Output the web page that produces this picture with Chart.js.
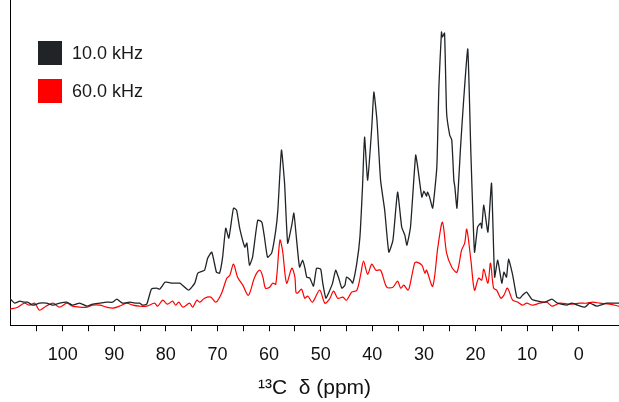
<!DOCTYPE html>
<html>
<head>
<meta charset="utf-8">
<script src="https://cdn.jsdelivr.net/npm/chart.js@4.4.1/dist/chart.umd.min.js"></script>
<style>
  html, body { margin: 0; padding: 0; background: #fff; }
</style>
</head>
<body>
<canvas id="espectro" width="619" height="402"></canvas>
<script>
const etiquetas = ['10.0 kHz', '60.0 kHz'];
const colores = ['#202427', '#ff0000'];

const ppm10k = [110.3, 109.9, 109.3, 108.3, 107.4, 106.8, 105.8, 104.5, 103.1, 101.9, 100.6, 99.2, 98.1, 96.7, 95.3, 94.2, 92.8, 91.5, 90.3, 89.5, 88.4, 87.0, 85.7, 85.1, 84.5, 83.7,
  82.8, 81.8, 81.2, 80.6, 80.2, 79.8, 78.7, 77.3, 75.6, 74.4, 73.8, 72.5, 71.9, 71.1, 70.2, 69.6, 69.0, 68.4, 67.8, 66.9, 66.3, 65.7, 64.7, 64.3, 63.8, 63.2, 62.2, 61.4, 60.9, 60.3, 59.5, 58.7, 58.3,
  57.6, 57.0, 56.4, 55.6, 55.2, 54.7, 54.1, 53.5, 53.1, 52.7, 52.1, 51.4, 50.8, 50.0, 49.6, 49.0, 48.4, 47.7, 47.1, 46.5, 45.9, 45.3, 45.0, 44.2, 43.8, 43.0, 42.4, 41.9, 41.5, 40.9, 40.1, 39.7, 39.1,
  38.4, 37.6, 36.8, 36.0, 35.1, 34.3, 33.7, 33.3, 32.6, 31.6, 31.2, 30.4, 30.0, 29.5, 29.3, 28.9, 28.3, 27.5, 27.1, 26.6, 26.4, 26.0, 25.6, 25.0, 24.6, 24.2, 24.0, 23.6, 22.9, 22.3, 21.5, 20.9,
  20.2, 19.6, 19.0, 18.8, 18.4, 17.6, 16.9, 16.3, 15.7, 14.9, 14.5, 14.0, 13.6, 12.8, 12.0, 11.4, 10.9, 10.1, 9.1, 7.9, 6.6, 5.2, 4.1, 2.3, 1.4, 0.2, -1.2, -2.1, -3.5, -5.4, -6.6, -7.8];
const int10k = [27, 25, 22, 24, 23, 23, 20, 22, 22, 20, 22, 23, 20, 22, 19, 21, 22, 23, 23, 26, 22, 23, 22, 22, 20, 21,
  36, 37, 36, 40, 43, 43, 42, 42, 35, 42, 52, 55, 67, 73, 53, 52, 68, 97, 87, 117, 115, 97, 78, 82, 60, 68, 105, 103, 88, 68, 72, 95, 115,
  175, 142, 82, 100, 112, 87, 58, 65, 58, 48, 47, 39, 57, 56, 42, 27, 33, 42, 55, 47, 37, 40, 48, 45, 42, 62, 88, 138, 188, 145, 198, 233, 205,
  145, 115, 73, 85, 133, 98, 90, 80, 98, 170, 158, 128, 134, 129, 133, 128, 117, 158, 238, 293, 288, 292, 212, 190, 185, 145, 138, 117, 178, 225, 276, 172,
  73, 98, 102, 97, 120, 93, 142, 48, 65, 42, 53, 48, 66, 50, 28, 27, 30, 33, 26, 24, 23, 26, 22, 20, 22, 20, 18, 22, 19, 22, 22, 22];

const ppm60k = [110.3, 108.7, 107.4, 106.4, 105.4, 104.5, 103.5, 101.9, 100.6, 99.2, 98.1, 96.7, 95.3, 94.2, 92.8, 91.5, 90.3, 89.0, 87.6, 86.4, 85.1, 83.7,
  82.2, 81.6, 80.6, 79.7, 78.7, 78.1, 77.5, 76.7, 75.4, 74.8, 74.0, 73.4, 72.5, 71.3, 70.3, 69.2, 68.2, 67.6, 66.9, 66.1, 65.1, 64.0, 62.8, 61.8, 61.2, 60.7, 59.9, 59.3, 58.7,
  57.9, 57.4, 56.6, 55.6, 55.0, 54.8, 54.5, 53.7, 53.1, 52.5, 51.6, 50.2, 49.2, 48.3, 47.5, 46.7, 45.7, 45.0, 44.0, 43.0, 42.2, 41.7, 40.9, 40.1, 39.3, 38.4, 37.2, 36.0, 35.1, 34.5, 33.9, 33.1, 32.8,
  31.8, 31.4, 30.4, 29.8, 29.5, 28.3, 27.3, 26.4, 25.6, 24.6, 23.6, 22.7, 22.1, 21.7, 20.9, 20.2, 19.4, 18.8, 18.4, 17.6, 17.1, 16.5, 15.9, 15.1, 14.5, 13.8, 12.8, 11.8, 10.9, 10.1,
  8.9, 7.6, 6.2, 5.2, 3.7, 1.7, -0.2, -1.6, -2.7, -4.1, -6.0, -7.8];
const int60k = [16, 18, 22, 20, 22, 15, 18, 22, 18, 22, 19, 18, 18, 20, 20, 18, 17, 19, 22, 20, 19, 19,
  22, 19, 25, 21, 24, 20, 23, 18, 22, 18, 25, 23, 27, 28, 23, 32, 47, 50, 61, 48, 40, 30, 48, 55, 48, 37, 38, 42, 41,
  85, 75, 42, 57, 48, 33, 32, 36, 27, 29, 23, 35, 22, 26, 34, 27, 28, 25, 33, 35, 52, 64, 51, 61, 55, 55, 38, 38, 44, 37, 40, 35, 38,
  62, 63, 60, 52, 55, 39, 78, 103, 72, 58, 53, 75, 82, 96, 65, 35, 47, 45, 56, 42, 62, 37, 35, 27, 30, 37, 25, 23, 20, 22,
  20, 22, 23, 19, 22, 21, 22, 22, 23, 22, 21, 19];

const ejeMin = -7.8;
const ejeMax = 110.2;
const ejeTitulo = '\u00B9\u00B3C  \u03B4 (ppm)';

function puntos(xs, ys) {
    return xs.map((x, i) => ({ x: x, y: ys[i] }));
}

// leyenda dentro del area de la grafica, arriba a la izquierda
const leyendaInterna = {
    id: 'leyendaInterna',
    afterDraw(chart) {
        const ctx = chart.ctx;
        ctx.save();
        ctx.font = '18px "Liberation Sans", Arial, sans-serif';
        ctx.textBaseline = 'middle';
        chart.data.datasets.forEach((ds, i) => {
            const y0 = 41 + i * 38;
            ctx.fillStyle = ds.borderColor;
            ctx.fillRect(38, y0, 24, 24);
            ctx.fillStyle = '#1a1a1a';
            ctx.fillText(ds.label, 72, y0 + 13);
        });
        ctx.restore();
    }
};

const ctxEspectro = document.getElementById('espectro');

new Chart(ctxEspectro, {
    type: 'line',
    data: {
        datasets: [
            {
                label: etiquetas[0],
                data: puntos(ppm10k, int10k),
                borderColor: colores[0],
                borderWidth: 1.3,
                pointRadius: 0,
                tension: 0.15,
                fill: false
            },
            {
                label: etiquetas[1],
                data: puntos(ppm60k, int60k),
                borderColor: colores[1],
                borderWidth: 1.2,
                pointRadius: 0,
                tension: 0.3,
                fill: false
            }
        ]
    },
    options: {
        responsive: false,
        animation: false,
        layout: { padding: { left: 10, right: 0, top: 0, bottom: 0 } },
        plugins: {
            legend: { display: false },
            tooltip: { enabled: false }
        },
        scales: {
            x: {
                type: 'linear',
                reverse: true,
                min: ejeMin,
                max: ejeMax,
                afterBuildTicks(scale) {
                    scale.ticks = scale.ticks.filter(t => Math.abs(t.value % 5) < 1e-6);
                },
                ticks: {
                    stepSize: 5,
                    autoSkip: false,
                    maxRotation: 0,
                    padding: 13,
                    color: '#111',
                    font: { size: 18, family: '"Liberation Sans", Arial, sans-serif' },
                    callback: v => (Math.round(v) % 10 === 0 ? Math.round(v) : '')
                },
                grid: {
                    drawOnChartArea: false,
                    drawTicks: true,
                    tickLength: 6,
                    tickColor: '#000'
                },
                border: { display: true, color: '#000', width: 1 },
                title: {
                    display: true,
                    text: ejeTitulo,
                    color: '#111',
                    font: { size: 21, family: '"Liberation Sans", Arial, sans-serif' },
                    padding: { top: -3, bottom: 1 }
                }
            },
            y: {
                min: 0,
                max: 325,
                ticks: { display: false },
                grid: { display: false, drawTicks: false },
                border: { display: true, color: '#000', width: 1 }
            }
        }
    },
    plugins: [leyendaInterna]
});
</script>
</body>
</html>
